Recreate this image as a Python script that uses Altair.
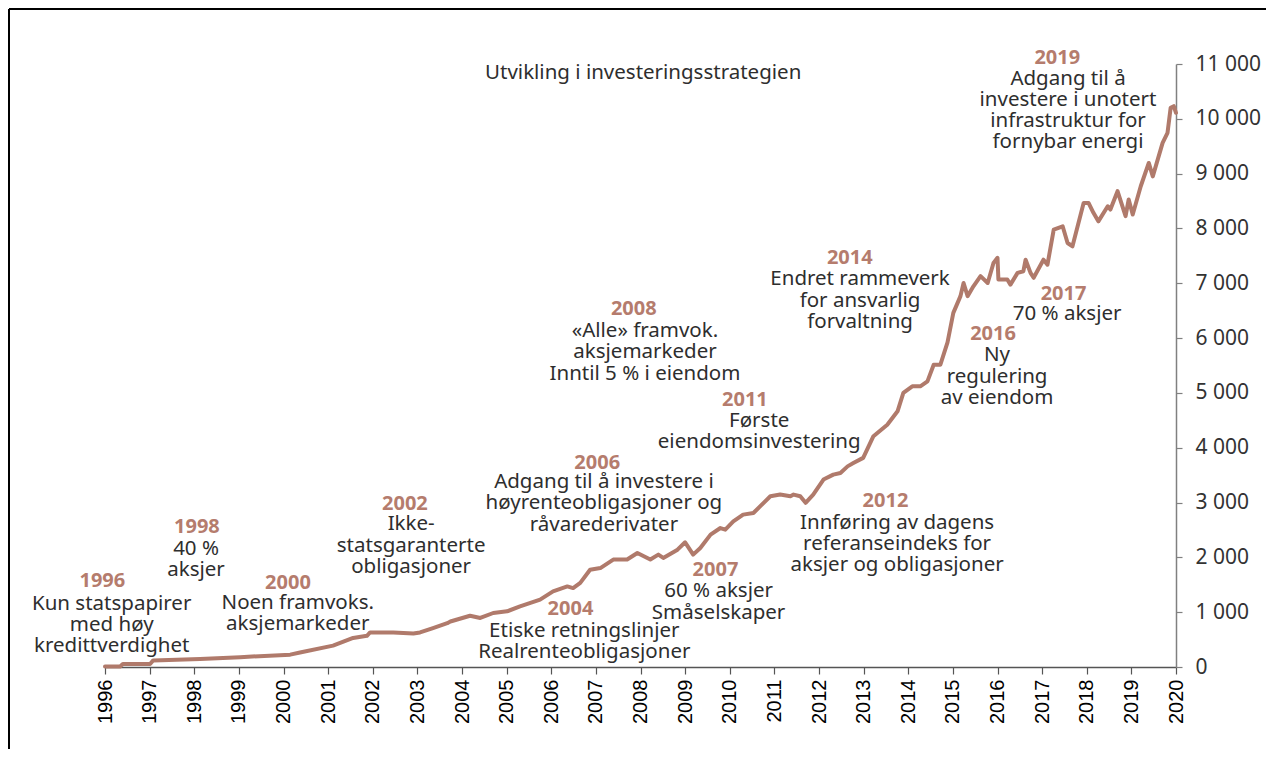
import altair as alt
import pandas as pd

# ---- line data (fund value, billion NOK) ----
line_years = [1996.00, 1996.34, 1996.40, 1997.01, 1997.08, 1998.13, 1999.03, 2000.15, 2000.37, 2001.11,
              2001.56, 2001.87, 2001.94, 2002.46, 2002.91, 2003.06, 2003.35, 2003.67, 2003.74, 2004.18,
              2004.41, 2004.70, 2005.01, 2005.30, 2005.75, 2006.04, 2006.36, 2006.49, 2006.65, 2006.87,
              2007.10, 2007.39, 2007.70, 2007.93, 2008.22, 2008.40, 2008.51, 2008.83, 2009.00, 2009.18,
              2009.34, 2009.57, 2009.79, 2009.90, 2010.08, 2010.30, 2010.53, 2010.91, 2011.13, 2011.36,
              2011.43, 2011.58, 2011.70, 2011.87, 2012.10, 2012.32, 2012.48, 2012.64, 2012.77, 2012.99,
              2013.22, 2013.53, 2013.76, 2013.89, 2014.09, 2014.27, 2014.43, 2014.57, 2014.72, 2014.88,
              2015.01, 2015.17, 2015.24, 2015.33, 2015.46, 2015.62, 2015.78, 2015.91, 2016.00, 2016.02,
              2016.22, 2016.29, 2016.45, 2016.58, 2016.63, 2016.74, 2016.81, 2017.03, 2017.12, 2017.26,
              2017.46, 2017.57, 2017.68, 2017.93, 2018.04, 2018.15, 2018.26, 2018.47, 2018.53, 2018.69,
              2018.87, 2018.94, 2019.03, 2019.21, 2019.39, 2019.48, 2019.70, 2019.81, 2019.88, 2019.95,
              2020.00]
line_values = [10, 10, 55, 55, 120, 145, 180, 225, 265, 390,
               530, 570, 630, 630, 610, 630, 710, 800, 830, 935,
               895, 985, 1015, 1105, 1230, 1380, 1470, 1440, 1535, 1775,
               1805, 1960, 1960, 2080, 1960, 2050, 1990, 2140, 2275, 2050,
               2170, 2415, 2535, 2505, 2655, 2780, 2810, 3115, 3145, 3115,
               3145, 3115, 2995, 3145, 3420, 3510, 3540, 3660, 3720, 3815,
               4210, 4420, 4665, 5000, 5120, 5120, 5210, 5515, 5515, 5920,
               6460, 6765, 7005, 6765, 6945, 7130, 7005, 7370, 7465, 7070,
               7070, 6975, 7190, 7220, 7430, 7190, 7100, 7430, 7340, 7980,
               8040, 7735, 7675, 8465, 8465, 8285, 8130, 8405, 8345, 8680,
               8225, 8530, 8255, 8770, 9195, 8950, 9560, 9745, 10200, 10230,
               10110]

# ---- annotations ----
ann_years = ["1996", "1998", "2000", "2002", "2004", "2006", "2007",
             "2008", "2011", "2012", "2014", "2016", "2017", "2019"]
ann_year_x = [1995.94, 1998.06, 2000.10, 2002.72, 2006.43, 2007.03, 2009.68,
              2007.85, 2010.34, 2013.49, 2012.69, 2015.90, 2017.48, 2017.34]
ann_year_y = [1460, 2442, 1423, 2858, 954, 3613, 1666,
              6420, 4768, 2912, 7354, 5960, 6703, 11009]
ann_texts = [
    "Kun statspapirer\nmed høy\nkredittverdighet",
    "40 %\naksjer",
    "Noen framvoks.\naksjemarkeder",
    "Ikke-\nstatsgaranterte\nobligasjoner",
    "Etiske retningslinjer\nRealrenteobligasjoner",
    "Adgang til å investere i\nhøyrenteobligasjoner og\nråvarederivater",
    "60 % aksjer\nSmåselskaper",
    "«Alle» framvok.\naksjemarkeder\nInntil 5 % i eiendom",
    "Første\neiendomsinvestering",
    "Innføring av dagens\nreferanseindeks for\naksjer og obligasjoner",
    "Endret rammeverk\nfor ansvarlig\nforvaltning",
    "Ny\nregulering\nav eiendom",
    "70 % aksjer",
    "Adgang til å\ninvestere i unotert\ninfrastruktur for\nfornybar energi",
]
ann_text_x = [1996.15, 1998.04, 2000.32, 2002.86, 2006.74, 2007.18, 2009.75,
              2008.10, 2010.66, 2013.75, 2012.92, 2015.99, 2017.56, 2017.58]
ann_text_y = [1046, 2042, 1058, 2493, 547, 3266, 1270,
              6018, 4380, 2524, 6964, 5577, 6325, 10626]

title_text = ["Utvikling i investeringsstrategien"]
title_x = [2008.06]
title_y = [10726]

x_ticks = list(range(1996, 2021))
y_ticks = list(range(0, 11001, 1000))

# ---- styling ----
LINE_COLOR = "#b07a6b"
YEAR_COLOR = "#b57c6d"
TEXT_COLOR = "#2e2e2e"
W, H = 1071, 603
PAD = {"left": 97, "top": 56, "right": 90, "bottom": 82}

line_df = pd.DataFrame({"year": line_years, "value": line_values})
yr_df = pd.DataFrame({"year": ann_year_x, "value": ann_year_y, "label": ann_years})
tx_df = pd.DataFrame({"year": ann_text_x, "value": ann_text_y, "label": ann_texts})
ti_df = pd.DataFrame({"year": title_x, "value": title_y, "label": title_text})

x_scale = alt.Scale(domain=[1996, 2020], nice=False, zero=False)
y_scale = alt.Scale(domain=[0, 11000], nice=False, zero=True)

x_axis = alt.Axis(values=x_ticks, format="d", labelAngle=270, labelFont="Liberation Sans",
                  labelFontSize=20, labelColor="#000000", labelPadding=5, tickSize=7,
                  tickColor="#555555", domainColor="#555555", domainWidth=1.5, tickWidth=1.2,
                  grid=False, title=None, labelOverlap=False, labelFlush=False)
y_axis = alt.Axis(orient="right", values=y_ticks,
                  labelExpr="replace(format(datum.value, ','), ',', ' ')",
                  labelFont="Noto Sans", labelFontSize=21, labelColor="#333333",
                  tickSize=6, labelPadding=13, tickColor="#808080", domainColor="#808080",
                  domainWidth=1.5, tickWidth=1.2, grid=False, title=None,
                  labelOverlap=False, labelFlush=False)


def X():
    return alt.X("year:Q", scale=x_scale, axis=x_axis)


def Y():
    return alt.Y("value:Q", scale=y_scale, axis=y_axis)


line = alt.Chart(line_df).mark_line(color=LINE_COLOR, strokeWidth=4,
                                    strokeJoin="round", strokeCap="round").encode(x=X(), y=Y())

years = alt.Chart(yr_df).mark_text(font="Noto Sans", fontSize=20, fontWeight="bold",
                                   color=YEAR_COLOR, align="center",
                                   baseline="alphabetic").encode(x=X(), y=Y(), text="label:N")

texts = alt.Chart(tx_df).mark_text(font="Noto Sans", fontSize=20.5, color=TEXT_COLOR,
                                   align="center", baseline="alphabetic", lineBreak="\n",
                                   lineHeight=21.3).encode(x=X(), y=Y(), text="label:N")

title = alt.Chart(ti_df).mark_text(font="Noto Sans", fontSize=20.5, color=TEXT_COLOR,
                                   align="center", baseline="alphabetic").encode(
    x=X(), y=Y(), text="label:N")

frame_df = pd.DataFrame({"k": [0]})
frame_top = alt.Chart(frame_df).mark_rule(color="#000000", strokeWidth=2).encode(
    x=alt.value(-96), x2=alt.value(W + PAD["right"]), y=alt.value(-55))
frame_left = alt.Chart(frame_df).mark_rule(color="#000000", strokeWidth=2).encode(
    x=alt.value(-96), y=alt.value(-55), y2=alt.value(H + PAD["bottom"]))

chart = alt.layer(line, years, texts, title, frame_top, frame_left).properties(
    width=W, height=H, padding=PAD,
    autosize=alt.AutoSizeParams(type="none"),
    background="white",
).configure_view(stroke=None)

chart.save("out.html", embed_options={"renderer": "svg", "actions": False})
